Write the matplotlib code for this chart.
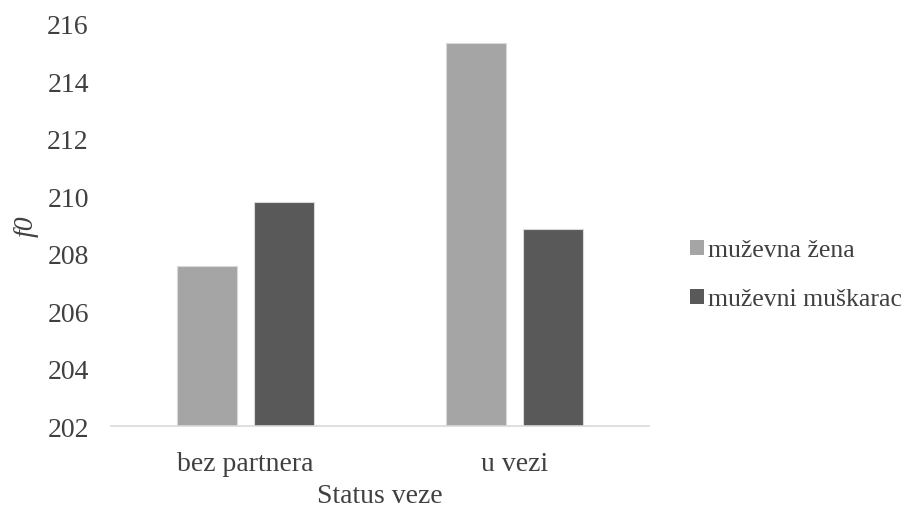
import numpy as np
import matplotlib.pyplot as plt
from matplotlib.patches import Patch

plt.rcParams['font.family'] = 'serif'
plt.rcParams['font.serif'] = ['Liberation Serif', 'Times New Roman', 'DejaVu Serif']

categories = ['bez partnera', 'u vezi']
zena = [207.58, 215.33]
muskarac = [209.81, 208.85]
series_names = ['muževna žena', 'muževni muškarac']
colors = ['#a5a5a5', '#595959']
yticks = [202, 204, 206, 208, 210, 212, 214, 216]

fig = plt.figure(figsize=(9.04, 5.10), dpi=100)
ax = fig.add_axes([0.1228, 0.1627, 0.5952, 0.7883])

x = np.arange(len(categories))
w = 0.223
off = 0.1415
ax.bar(x - off, zena, w, bottom=0, color=colors[0], edgecolor='#d9d9d9', linewidth=0.8)
ax.bar(x + off, muskarac, w, bottom=0, color=colors[1], edgecolor='#d9d9d9', linewidth=0.8)

ax.set_ylim(202, 216)
ax.set_xlim(-0.5, 1.5)
ax.set_yticks(yticks)
ax.set_xticks(x)
ax.set_xticklabels(categories)
ax.tick_params(axis='both', length=0, labelsize=20, labelcolor='#404040')
ax.tick_params(axis='x', pad=18)
ax.tick_params(axis='y', pad=16)

for s in ['top', 'right', 'left']:
    ax.spines[s].set_visible(False)
ax.spines['bottom'].set_color('#d9d9d9')
ax.spines['bottom'].set_linewidth(1.2)

ax.set_ylabel('f0', fontsize=20, style='italic', color='#404040', labelpad=6)
ax.set_xlabel('Status veze', fontsize=20, color='#404040', labelpad=5)

handles = [Patch(facecolor=c, edgecolor='none') for c in colors]
fig.legend(handles, series_names, loc='center left', bbox_to_anchor=(0.738, 0.459),
           frameon=False, fontsize=18.5, labelcolor='#404040', handlelength=0.55,
           handleheight=0.55, handletextpad=0.15, labelspacing=1.05)

fig.savefig('out.png', dpi=100)
